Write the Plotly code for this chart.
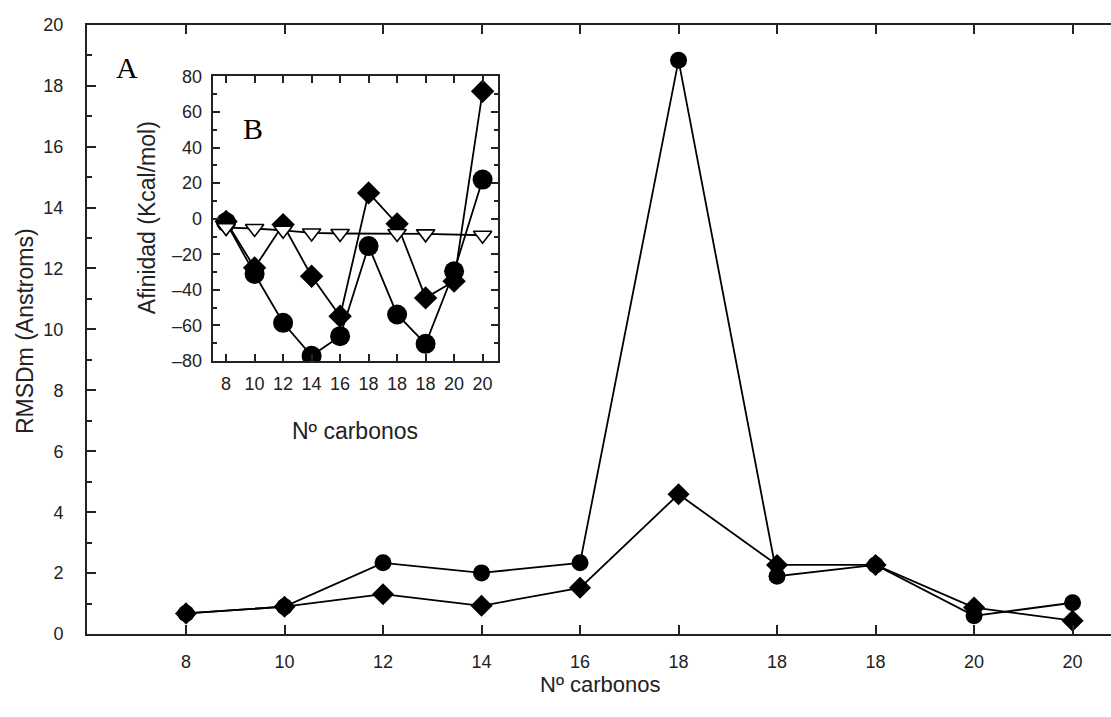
import plotly.graph_objects as go

W, H = 1111, 717

# Main chart data (RMSDm)
categories = ["8", "10", "12", "14", "16", "18", "18", "18", "20", "20"]
rmsd_circles = [0.68, 0.9, 2.34, 2.01, 2.34, 18.83, 1.9, 2.27, 0.6, 1.03]
rmsd_diamonds = [0.68, 0.9, 1.31, 0.93, 1.52, 4.59, 2.27, 2.27, 0.87, 0.44]

# Inset data (Afinidad)
afin_circles = [-2, -31, -58.5, -77, -66, -15.4, -53.8, -70.3, -29.5, 22]
afin_diamonds = [-1.5, -27.6, -3.3, -32.3, -54.8, 14.5, -2.9, -44.5, -35.1, 71.6]
afin_triangles = [-5.0, -5.5, -6.5, -8.0, -8.3, None, -8.3, -8.5, None, -9.3]

main_yticks = [0, 2, 4, 6, 8, 10, 12, 14, 16, 18, 20]
inset_yticks = [-80, -60, -40, -20, 0, 20, 40, 60, 80]

idx = list(range(len(categories)))

FONT = "Liberation Sans, Arial, Helvetica, sans-serif"
SERIF = "Liberation Serif, Times New Roman, serif"

# vertical calibration of the capture
VA, VB = 0.973, 8.6

def px_x(p):
    return p / W

def px_y(p):
    return 1 - ((p - VB) / VA) / H

fig = go.Figure()

line_style = dict(color="black", width=1.8)

# main traces
fig.add_trace(go.Scatter(x=idx, y=rmsd_circles, mode="lines+markers",
                         line=line_style,
                         marker=dict(symbol="circle", size=17, color="black"),
                         xaxis="x", yaxis="y", showlegend=False))
fig.add_trace(go.Scatter(x=idx, y=rmsd_diamonds, mode="lines+markers",
                         line=line_style,
                         marker=dict(symbol="diamond", size=17, color="black"),
                         xaxis="x", yaxis="y", showlegend=False))

# inset traces
fig.add_trace(go.Scatter(x=idx, y=afin_circles, mode="lines+markers",
                         line=line_style,
                         marker=dict(symbol="circle", size=20, color="black"),
                         xaxis="x2", yaxis="y2", showlegend=False))
fig.add_trace(go.Scatter(x=idx, y=afin_diamonds, mode="lines+markers",
                         line=line_style,
                         marker=dict(symbol="diamond", size=18, color="black"),
                         xaxis="x2", yaxis="y2", showlegend=False))
fig.add_trace(go.Scatter(x=idx, y=afin_triangles, mode="lines+markers",
                         connectgaps=True,
                         line=line_style,
                         marker=dict(symbol="triangle-down", size=16, color="white",
                                     line=dict(color="black", width=1.6)),
                         xaxis="x2", yaxis="y2", showlegend=False))

def axis_common(fs):
    return dict(showline=True, linecolor="#222", linewidth=2, showgrid=False,
                zeroline=False, ticks="inside", tickcolor="#222", tickwidth=1.5,
                tickfont=dict(family=FONT, size=fs, color="#222"))

# main axes
fig.update_layout(
    xaxis=dict(domain=[px_x(87), 1.0], range=[-1.005, 9.39],
               tickmode="array", tickvals=idx, ticktext=categories,
               mirror="ticks", ticklen=9, ticklabelstandoff=10, anchor="y",
               **axis_common(18)),
    yaxis=dict(domain=[px_y(633.3), px_y(23.3)], range=[0, 20],
               tickmode="array", tickvals=main_yticks,
               ticktext=[str(v) for v in main_yticks],
               ticklen=9, ticklabelstandoff=18, anchor="x",
               minor=dict(dtick=1, ticks="inside", ticklen=5, tickcolor="#222"),
               **axis_common(18)),
    xaxis2=dict(domain=[px_x(212.7), px_x(497.7)], range=[-0.47, 9.53],
                tickmode="array", tickvals=idx, ticktext=categories,
                mirror="ticks", ticklen=7, ticklabelstandoff=5, anchor="y2",
                **axis_common(18)),
    yaxis2=dict(domain=[px_y(360), px_y(75)], range=[-80, 80],
                tickmode="array", tickvals=inset_yticks,
                ticktext=[str(v).replace("-", "\u2013") for v in inset_yticks],
                mirror="ticks", ticklen=7, ticklabelstandoff=5, anchor="x2",
                minor=dict(dtick=10, ticks="inside", ticklen=4, tickcolor="#222"),
                **axis_common(18)),
)

annotations = [
    dict(text="RMSDm (Anstroms)", x=px_x(25), y=px_y(330), textangle=-90,
         font=dict(family=FONT, size=23, color="#222")),
    dict(text="Nº carbonos", x=px_x(600), y=px_y(684),
         font=dict(family=FONT, size=22, color="#222")),
    dict(text="Afinidad (Kcal/mol)", x=px_x(147), y=px_y(217), textangle=-90,
         font=dict(family=FONT, size=23, color="#222")),
    dict(text="Nº carbonos", x=px_x(355), y=px_y(430),
         font=dict(family=FONT, size=23, color="#222")),
    dict(text="A", x=px_x(127), y=px_y(66),
         font=dict(family=SERIF, size=30, color="black")),
    dict(text="B", x=px_x(253), y=px_y(127),
         font=dict(family=SERIF, size=30, color="black")),
]
for a in annotations:
    a.update(xref="paper", yref="paper", showarrow=False, xanchor="center", yanchor="middle")

fig.update_layout(
    width=W, height=H, margin=dict(l=0, r=0, t=0, b=0),
    paper_bgcolor="white", plot_bgcolor="rgba(0,0,0,0)",
    annotations=annotations,
)

fig.write_html("out.html", config={"displayModeBar": False},
               post_script="document.body.style.margin='0';document.body.style.overflow='hidden';")
